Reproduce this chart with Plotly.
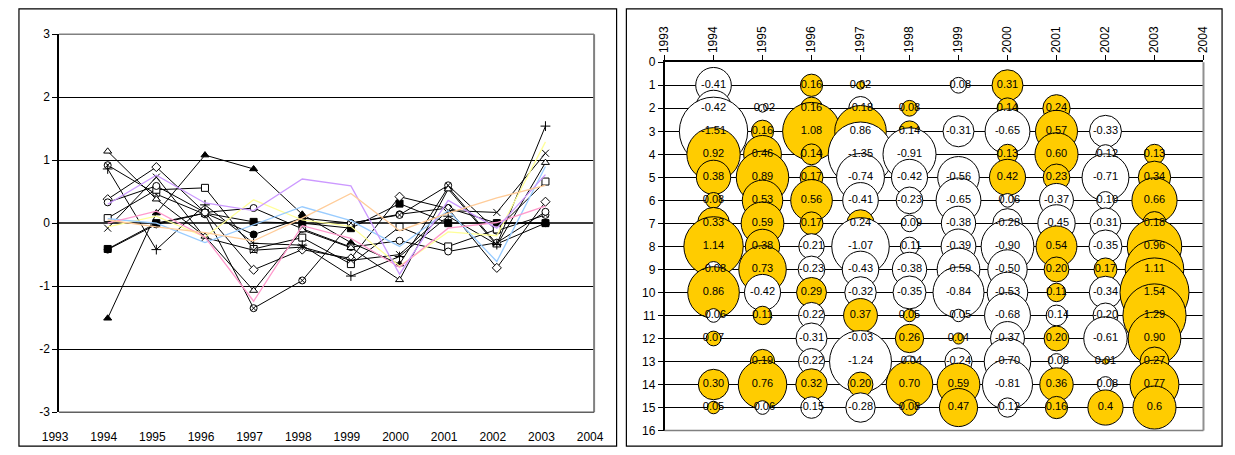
import plotly.graph_objects as go

# ---------------------------------------------------------------- data
years = [1994, 1995, 1996, 1997, 1998, 1999, 2000, 2001, 2002, 2003]
axis_years = list(range(1993, 2005))
row_ids = list(range(1, 16))
left_yticks = [-3, -2, -1, 0, 1, 2, 3]
right_yticks = list(range(0, 17))

# one list per row, one printed value per year ("0" = empty cell)
r01 = ["-0.41", "0", "0.16", "0.02", "0", "-0.08", "0.31", "0", "0", "0"]
r02 = ["-0.42", "-0.02", "0.16", "-0.18", "0.08", "0", "0.14", "0.24", "0", "0"]
r03 = ["-1.51", "0.16", "1.08", "0.86", "0.14", "-0.31", "-0.65", "0.57", "-0.33", "0"]
r04 = ["0.92", "0.46", "0.14", "-1.35", "-0.91", "0", "0.13", "0.60", "-0.12", "0.13"]
r05 = ["0.38", "0.89", "0.17", "-0.74", "-0.42", "-0.56", "0.42", "0.23", "-0.71", "0.34"]
r06 = ["0.08", "0.53", "0.56", "-0.41", "-0.23", "-0.65", "-0.06", "-0.37", "-0.10", "0.66"]
r07 = ["0.33", "0.59", "0.17", "0.24", "-0.09", "-0.38", "-0.28", "-0.45", "-0.31", "0.18"]
r08 = ["1.14", "0.38", "-0.21", "-1.07", "-0.11", "-0.39", "-0.90", "0.54", "-0.35", "0.96"]
r09 = ["-0.08", "0.73", "-0.23", "-0.43", "-0.38", "-0.59", "-0.50", "0.20", "0.17", "1.11"]
r10 = ["0.86", "-0.42", "0.29", "-0.32", "-0.35", "-0.84", "-0.53", "0.11", "-0.34", "1.54"]
r11 = ["-0.06", "0.11", "-0.22", "0.37", "0.05", "-0.05", "-0.68", "-0.14", "-0.20", "1.29"]
r12 = ["0.07", "0", "-0.31", "-0.03", "0.26", "0.04", "-0.37", "0.20", "-0.61", "0.90"]
r13 = ["0", "0.19", "-0.22", "-1.24", "-0.04", "-0.24", "-0.70", "-0.08", "0.01", "0.27"]
r14 = ["0.30", "0.76", "0.32", "0.20", "0.70", "0.59", "-0.81", "0.36", "-0.08", "0.77"]
r15 = ["0.05", "-0.06", "-0.15", "-0.28", "0.08", "0.47", "-0.12", "0.16", "0.4", "0.6"]

rows = [r01, r02, r03, r04, r05, r06, r07, r08, r09, r10, r11, r12, r13, r14, r15]

# ---------------------------------------------------------------- styles
FONT = "Liberation Sans, Arial, sans-serif"
W, H = 1235, 455

# (line colour, marker symbol, marker fill) per row
row_styles = [
    ("black", "square", "black"),
    ("black", "circle", "black"),
    ("black", "triangle-up", "black"),
    ("black", "circle-x", "white"),
    ("black", "diamond", "white"),
    ("black", "square", "white"),
    ("black", "circle", "white"),
    ("black", "triangle-up", "white"),
    ("black", "x-thin", "black"),
    ("black", "cross-thin", "black"),
    ("#FFFF99", None, None),
    ("#99CCFF", None, None),
    ("#FF99CC", None, None),
    ("#CC99FF", None, None),
    ("#FFCC99", None, None),
]

GOLD = "#FFCC00"
MAX_BUBBLE_PX = 69


def px_x(p):
    return p / W


def px_y(p):
    return 1 - p / H


fig = go.Figure()

# ---------------------------------------------------------------- left: lines
for vals, (col, sym, fill) in zip(rows, row_styles):
    nums = [float(v) for v in vals]
    if sym is None:
        fig.add_trace(go.Scatter(
            x=years, y=nums, mode="lines",
            line=dict(color=col, width=1.3),
            xaxis="x", yaxis="y", showlegend=False, hoverinfo="skip"))
    else:
        fig.add_trace(go.Scatter(
            x=years, y=nums, mode="lines+markers",
            line=dict(color=col, width=1),
            marker=dict(symbol=sym, size=7, color=fill,
                        line=dict(color="black", width=1)),
            xaxis="x", yaxis="y", showlegend=False, hoverinfo="skip",
            cliponaxis=False))

# ---------------------------------------------------------------- right: bubbles
bx, by, bsize, bcolor, btext = [], [], [], [], []
for rid, vals in zip(row_ids, rows):
    for yr, s in zip(years, vals):
        v = float(s)
        if v == 0:
            continue
        bx.append(yr)
        by.append(rid)
        bsize.append(abs(v))
        bcolor.append(GOLD if v > 0 else "white")
        btext.append(s)

fig.add_trace(go.Scatter(
    x=bx, y=by, mode="markers",
    marker=dict(size=bsize, sizemode="area",
                sizeref=2 * max(bsize) / MAX_BUBBLE_PX ** 2,
                color=bcolor, opacity=1,
                line=dict(color="black", width=1)),
    xaxis="x2", yaxis="y2", showlegend=False, hoverinfo="skip",
    cliponaxis=False))

fig.add_trace(go.Scatter(
    x=bx, y=by, mode="text", text=btext, textposition="middle center",
    textfont=dict(family=FONT, size=11, color="black"),
    xaxis="x2", yaxis="y2", showlegend=False, hoverinfo="skip",
    cliponaxis=False))

# ---------------------------------------------------------------- axes
L_X0, L_X1, L_Y0, L_Y1 = 43, 590, 28, 418
R_X0, R_X1, R_Y0, R_Y1 = 662, 1213, 57, 437

tick_font = dict(family=FONT, size=12, color="black")

fig.update_layout(
    width=W, height=H,
    margin=dict(l=0, r=0, t=0, b=0),
    paper_bgcolor="white", plot_bgcolor="white",
    showlegend=False,
    xaxis=dict(
        domain=[px_x(L_X0), px_x(L_X1)], range=[1993, 2004],
        tickvals=axis_years, ticktext=[str(y) for y in axis_years],
        showgrid=False, zeroline=False, showline=False, ticks="",
        tickfont=tick_font, anchor="y", ticklabelstandoff=16,
        ticklabelshift=-4,
    ),
    yaxis=dict(
        domain=[px_y(L_Y1), px_y(L_Y0)], range=[-3, 3],
        tickvals=left_yticks, ticktext=[str(t) for t in left_yticks],
        showgrid=True, gridcolor="black", gridwidth=1,
        zeroline=True, zerolinecolor="#3a3a3a", zerolinewidth=2,
        showline=True, linecolor="black", linewidth=1.5,
        ticks="outside", ticklen=5, tickcolor="black", tickwidth=1,
        tickfont=tick_font, anchor="x",
    ),
    xaxis2=dict(
        domain=[px_x(R_X0), px_x(R_X1)], range=[1993, 2004],
        tickvals=axis_years, ticktext=[str(y) for y in axis_years],
        side="top", tickangle=-90,
        showgrid=False, zeroline=False,
        showline=True, linecolor="black", linewidth=1.5,
        ticks="outside", ticklen=5, tickcolor="black", tickwidth=1,
        tickfont=tick_font, anchor="y2",
    ),
    yaxis2=dict(
        domain=[px_y(R_Y1), px_y(R_Y0)], range=[16, 0],
        tickvals=right_yticks, ticktext=[str(t) for t in right_yticks],
        showgrid=True, gridcolor="black", gridwidth=1,
        zeroline=False,
        showline=True, linecolor="black", linewidth=1.5,
        ticks="outside", ticklen=5, tickcolor="black", tickwidth=1,
        tickfont=tick_font, anchor="x2",
    ),
)

# ---------------------------------------------------------------- frames
shapes = []
# plot-area borders (grey right/top/bottom edges)
shapes.append(dict(type="line", xref="paper", yref="paper",
                   x0=px_x(L_X0), x1=px_x(L_X1), y0=px_y(L_Y0), y1=px_y(L_Y0),
                   line=dict(color="#808080", width=1.5), layer="above"))
shapes.append(dict(type="line", xref="paper", yref="paper",
                   x0=px_x(L_X1), x1=px_x(L_X1), y0=px_y(L_Y0), y1=px_y(L_Y1),
                   line=dict(color="#808080", width=2), layer="above"))
shapes.append(dict(type="line", xref="paper", yref="paper",
                   x0=px_x(L_X0), x1=px_x(L_X1), y0=px_y(L_Y1), y1=px_y(L_Y1),
                   line=dict(color="#606060", width=1.5), layer="above"))
shapes.append(dict(type="line", xref="paper", yref="paper",
                   x0=px_x(R_X1), x1=px_x(R_X1), y0=px_y(R_Y0), y1=px_y(R_Y1),
                   line=dict(color="#909090", width=2), layer="above"))
shapes.append(dict(type="line", xref="paper", yref="paper",
                   x0=px_x(R_X0), x1=px_x(R_X1), y0=px_y(R_Y1), y1=px_y(R_Y1),
                   line=dict(color="#808080", width=1.5), layer="above"))
# outer chart frames
for x0, x1 in [(2, 613), (623, 1232)]:
    shapes.append(dict(type="rect", xref="paper", yref="paper",
                       x0=px_x(x0), x1=px_x(x1), y0=px_y(453), y1=px_y(2),
                       line=dict(color="black", width=1.2),
                       fillcolor="rgba(0,0,0,0)", layer="above"))
fig.update_layout(shapes=shapes)

fig.write_html("out.html")
